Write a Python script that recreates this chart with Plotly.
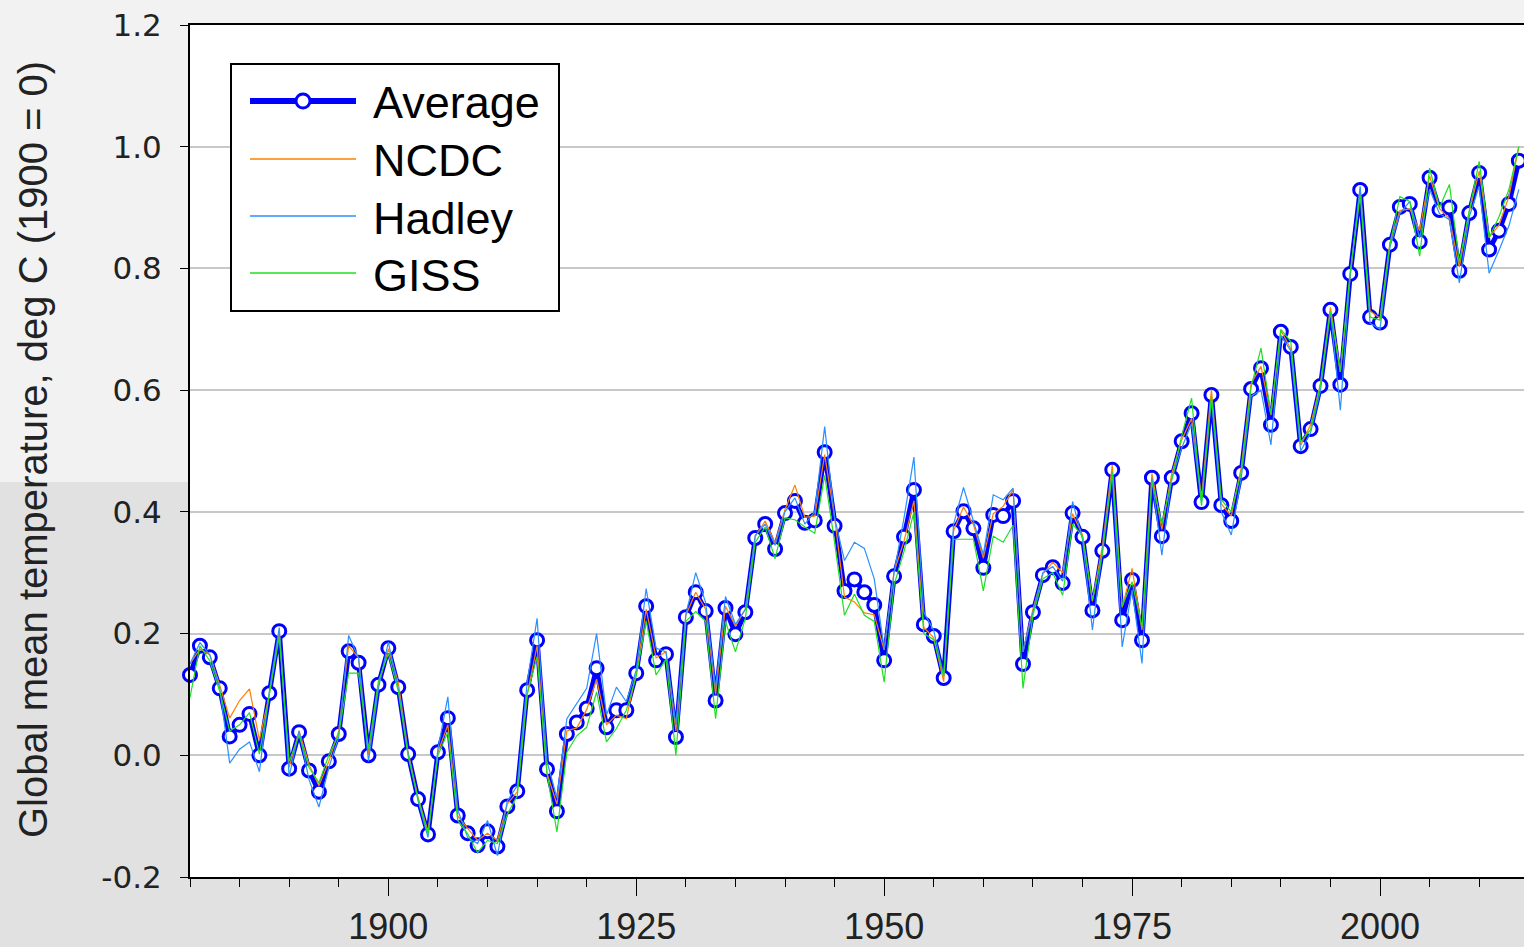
import plotly.graph_objects as go

years = list(range(1880, 2015))

average = [
    0.132, 0.180, 0.161, 0.110, 0.031, 0.050, 0.068, 0.000, 0.102, 0.204,
    -0.022, 0.038, -0.025, -0.060, -0.010, 0.035, 0.171, 0.152, 0.000, 0.116,
    0.176, 0.112, 0.002, -0.072, -0.130, 0.005, 0.061, -0.099, -0.128, -0.148,
    -0.125, -0.150, -0.084, -0.059, 0.107, 0.189, -0.023, -0.092, 0.035, 0.054,
    0.077, 0.143, 0.046, 0.074, 0.074, 0.135, 0.245, 0.156, 0.166, 0.030,
    0.227, 0.268, 0.237, 0.090, 0.242, 0.199, 0.235, 0.357, 0.380, 0.339,
    0.398, 0.418, 0.382, 0.386, 0.498, 0.377, 0.270, 0.289, 0.268, 0.247,
    0.156, 0.294, 0.359, 0.436, 0.215, 0.196, 0.127, 0.368, 0.401, 0.373,
    0.308, 0.395, 0.393, 0.418, 0.150, 0.235, 0.296, 0.309, 0.283, 0.398,
    0.359, 0.238, 0.336, 0.469, 0.222, 0.288, 0.189, 0.456, 0.360, 0.456,
    0.516, 0.562, 0.416, 0.592, 0.411, 0.385, 0.464, 0.602, 0.636, 0.543,
    0.696, 0.671, 0.508, 0.536, 0.607, 0.732, 0.609, 0.791, 0.929, 0.720,
    0.711, 0.839, 0.901, 0.906, 0.844, 0.949, 0.896, 0.900, 0.796, 0.891,
    0.957, 0.831, 0.862, 0.906, 0.977,
]

ncdc = [
    0.150, 0.175, 0.165, 0.115, 0.061, 0.090, 0.109, 0.025, 0.100, 0.205,
    -0.020, 0.040, -0.015, -0.050, -0.010, 0.040, 0.180, 0.160, 0.000, 0.115,
    0.175, 0.120, 0.005, -0.070, -0.125, 0.005, 0.050, -0.100, -0.120, -0.140,
    -0.128, -0.140, -0.080, -0.060, 0.100, 0.180, -0.030, -0.080, 0.040, 0.045,
    0.075, 0.125, 0.050, 0.066, 0.060, 0.135, 0.240, 0.160, 0.170, 0.040,
    0.230, 0.268, 0.240, 0.100, 0.245, 0.212, 0.240, 0.360, 0.385, 0.349,
    0.404, 0.444, 0.391, 0.393, 0.494, 0.391, 0.260, 0.252, 0.234, 0.231,
    0.173, 0.302, 0.352, 0.418, 0.210, 0.193, 0.121, 0.369, 0.408, 0.379,
    0.324, 0.397, 0.409, 0.437, 0.170, 0.240, 0.298, 0.317, 0.300, 0.397,
    0.362, 0.253, 0.343, 0.477, 0.243, 0.307, 0.206, 0.463, 0.371, 0.463,
    0.518, 0.554, 0.423, 0.601, 0.413, 0.393, 0.472, 0.611, 0.639, 0.559,
    0.698, 0.668, 0.509, 0.543, 0.611, 0.736, 0.630, 0.788, 0.932, 0.730,
    0.718, 0.842, 0.895, 0.898, 0.862, 0.952, 0.898, 0.882, 0.802, 0.893,
    0.960, 0.851, 0.871, 0.918, 1.000,
]

hadley = [
    0.150, 0.185, 0.165, 0.110, -0.013, 0.010, 0.022, -0.027, 0.105, 0.210,
    -0.035, 0.040, -0.040, -0.085, -0.020, 0.030, 0.197, 0.160, -0.010, 0.110,
    0.186, 0.110, 0.002, -0.075, -0.135, 0.010, 0.096, -0.090, -0.135, -0.145,
    -0.107, -0.165, -0.075, -0.050, 0.120, 0.225, -0.010, -0.070, 0.060, 0.085,
    0.110, 0.200, 0.066, 0.112, 0.088, 0.140, 0.274, 0.176, 0.170, 0.050,
    0.231, 0.300, 0.251, 0.110, 0.261, 0.215, 0.240, 0.361, 0.380, 0.345,
    0.400, 0.423, 0.380, 0.400, 0.540, 0.390, 0.320, 0.350, 0.340, 0.290,
    0.175, 0.300, 0.390, 0.490, 0.235, 0.205, 0.130, 0.380, 0.440, 0.385,
    0.330, 0.428, 0.420, 0.439, 0.170, 0.235, 0.300, 0.310, 0.286, 0.417,
    0.355, 0.206, 0.335, 0.465, 0.178, 0.272, 0.151, 0.455, 0.329, 0.455,
    0.505, 0.545, 0.415, 0.585, 0.400, 0.362, 0.455, 0.590, 0.600, 0.510,
    0.690, 0.665, 0.500, 0.530, 0.600, 0.730, 0.567, 0.790, 0.935, 0.710,
    0.700, 0.835, 0.890, 0.910, 0.850, 0.930, 0.890, 0.880, 0.776, 0.885,
    0.935, 0.792, 0.830, 0.870, 0.930,
]

giss = [
    0.095, 0.180, 0.155, 0.105, 0.040, 0.050, 0.070, 0.002, 0.100, 0.195,
    -0.010, 0.033, -0.020, -0.045, 0.000, 0.035, 0.135, 0.135, 0.010, 0.122,
    0.167, 0.106, -0.002, -0.071, -0.130, 0.000, 0.038, -0.107, -0.129, -0.160,
    -0.140, -0.145, -0.097, -0.067, 0.100, 0.162, -0.030, -0.126, 0.005, 0.032,
    0.046, 0.104, 0.022, 0.044, 0.074, 0.130, 0.221, 0.132, 0.158, 0.000,
    0.220, 0.236, 0.220, 0.060, 0.220, 0.170, 0.225, 0.350, 0.375, 0.323,
    0.390, 0.387, 0.375, 0.365, 0.460, 0.350, 0.230, 0.265, 0.230, 0.220,
    0.120, 0.280, 0.335, 0.400, 0.200, 0.190, 0.130, 0.355, 0.355, 0.355,
    0.270, 0.360, 0.350, 0.378, 0.110, 0.230, 0.290, 0.300, 0.263, 0.380,
    0.360, 0.255, 0.330, 0.465, 0.245, 0.285, 0.210, 0.450, 0.380, 0.450,
    0.525, 0.587, 0.410, 0.590, 0.420, 0.400, 0.465, 0.605, 0.669, 0.560,
    0.700, 0.680, 0.515, 0.535, 0.610, 0.730, 0.630, 0.795, 0.920, 0.720,
    0.715, 0.840, 0.918, 0.910, 0.820, 0.965, 0.900, 0.938, 0.810, 0.895,
    0.976, 0.850, 0.885, 0.930, 1.000,
]

y_tick_vals = [-0.2, 0.0, 0.2, 0.4, 0.6, 0.8, 1.0, 1.2]
y_tick_text = ["-0.2", "0.0", "0.2", "0.4", "0.6", "0.8", "1.0", "1.2"]

legend_names = ["Average", "NCDC", "Hadley", "GISS"]

AVG_COLOR = "#0000ff"
NCDC_COLOR = "#ff8000"
HAD_COLOR = "#2b8fff"
GISS_COLOR = "#1ee01e"
FONT = "Liberation Sans"

fig = go.Figure()
fig.add_trace(go.Scatter(
    x=years, y=average, name=legend_names[0], mode="lines+markers",
    line=dict(color=AVG_COLOR, width=5),
    marker=dict(symbol="circle", size=13, color="white",
                line=dict(color=AVG_COLOR, width=3)),
    cliponaxis=False,
))
for series, name, color in [(ncdc, legend_names[1], NCDC_COLOR),
                             (hadley, legend_names[2], HAD_COLOR),
                             (giss, legend_names[3], GISS_COLOR)]:
    fig.add_trace(go.Scatter(x=years, y=series, name=name, mode="lines",
                             line=dict(color=color, width=1.2)))

W, H = 1524, 947
L, R, T, B = 190, 0, 25, 70
pw, ph = W - L - R, H - T - B


def px_x(px):
    return (px - L) / pw


def px_y(py):
    return (H - B - py) / ph


shapes = []
# darker lower background outside the plot area
shapes.append(dict(type="rect", xref="paper", yref="paper", layer="below",
                   x0=px_x(0), x1=px_x(L), y0=px_y(H), y1=px_y(482),
                   fillcolor="#e1e1e1", line=dict(width=0)))
shapes.append(dict(type="rect", xref="paper", yref="paper", layer="below",
                   x0=px_x(0), x1=1.02, y0=px_y(H), y1=0,
                   fillcolor="#e1e1e1", line=dict(width=0)))

# legend box
shapes.append(dict(type="rect", xref="paper", yref="paper",
                   x0=px_x(231), x1=px_x(559), y0=px_y(311), y1=px_y(64),
                   fillcolor="white", line=dict(color="black", width=2)))
leg_y = [101, 159, 216, 273]
leg_colors = [AVG_COLOR, NCDC_COLOR, HAD_COLOR, GISS_COLOR]
leg_widths = [6, 1.5, 1.5, 1.5]
annotations = []
for name, yy, c, w in zip(legend_names, leg_y, leg_colors, leg_widths):
    shapes.append(dict(type="line", xref="paper", yref="paper",
                       x0=px_x(250), x1=px_x(356), y0=px_y(yy), y1=px_y(yy),
                       line=dict(color=c, width=w)))
    annotations.append(dict(xref="paper", yref="paper", x=px_x(371), y=px_y(yy + 2),
                            xanchor="left", yanchor="middle", showarrow=False,
                            text=name, font=dict(family=FONT, size=45, color="black")))
shapes.append(dict(type="circle", xref="paper", yref="paper",
                   xsizemode="pixel", ysizemode="pixel",
                   xanchor=px_x(303), yanchor=px_y(leg_y[0]),
                   x0=-7, x1=7, y0=-7, y1=7,
                   fillcolor="white", line=dict(color=AVG_COLOR, width=3)))

annotations.append(dict(xref="paper", yref="paper", x=px_x(33), y=px_y(450),
                        xanchor="center", yanchor="middle", showarrow=False,
                        textangle=-90,
                        text="Global mean temperature, deg C (1900 = 0)",
                        font=dict(family=FONT, size=40, color="#222222")))

fig.update_layout(
    width=W, height=H,
    margin=dict(l=L, r=R, t=T, b=B, autoexpand=False),
    paper_bgcolor="#f2f2f2", plot_bgcolor="white",
    showlegend=False,
    font=dict(family=FONT, color="#222222"),
    shapes=shapes, annotations=annotations,
)
fig.update_xaxes(
    range=[1880, 2014.52], tick0=1900, dtick=25,
    ticks="outside", ticklen=17, tickwidth=1, tickcolor="black",
    minor=dict(dtick=5, tick0=1880, ticks="outside", ticklen=8,
               tickwidth=1, tickcolor="black", showgrid=False),
    showgrid=False, zeroline=False,
    showline=True, linecolor="black", linewidth=2, mirror=True,
    tickfont=dict(family=FONT, size=36, color="#222222"),
    automargin=False,
)
fig.update_yaxes(
    range=[-0.2, 1.2], tickvals=y_tick_vals, ticktext=y_tick_text,
    ticks="outside", ticklen=8, tickwidth=1, tickcolor="black",
    ticklabelstandoff=12,
    showgrid=True, gridcolor="#c8c8c8", gridwidth=2, zeroline=False,
    showline=True, linecolor="black", linewidth=2,
    tickfont=dict(family="DejaVu Sans", size=31, color="#222222"),
    automargin=False,
)

fig.write_html("out.html", config={"displayModeBar": False},
               post_script="document.body.style.margin='0';")
